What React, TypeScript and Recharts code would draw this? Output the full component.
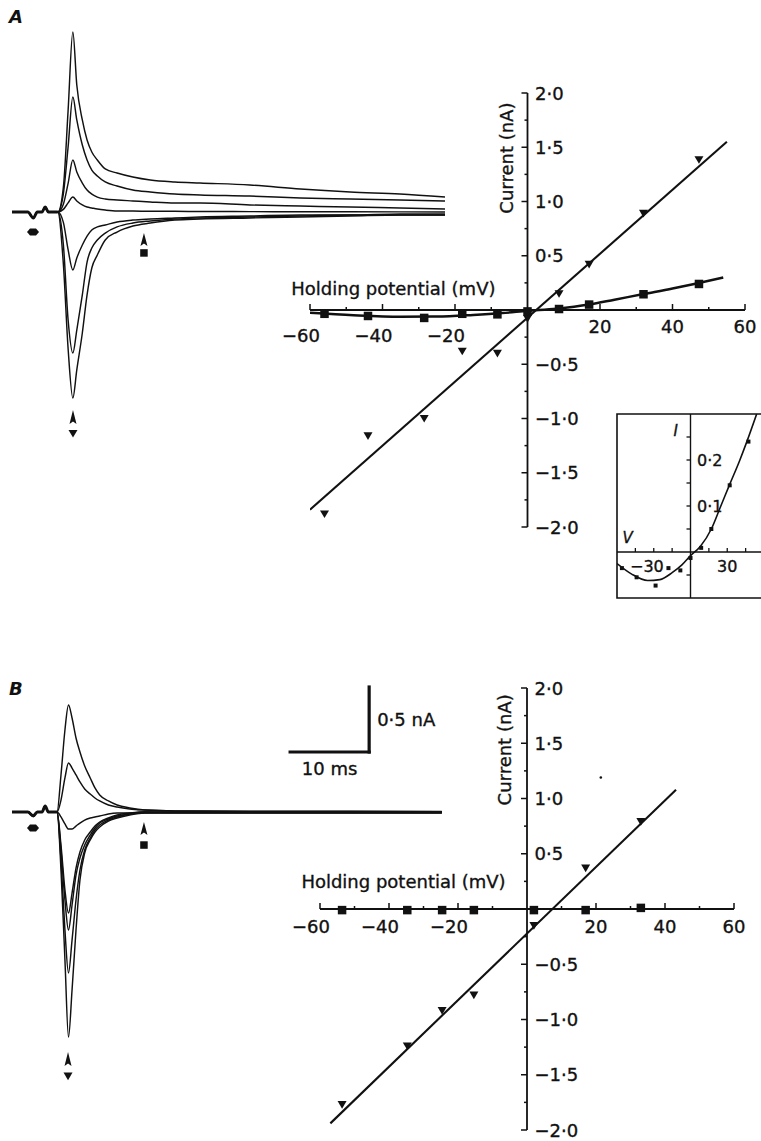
import type { ReactNode } from "react";
import { ComposedChart, Line, Scatter, XAxis, YAxis, ReferenceLine, ReferenceDot, ReferenceArea } from "recharts";

const FONT = '"DejaVu Sans", "Liberation Sans", sans-serif';
const INK = "#111";

// ---- current traces (time in ms from trace start, current in nA) ----
const tA = [0, 2, 2.7, 3.2, 3.8, 4.2, 4.6, 5.8, 6.5, 7.1, 7.7, 8.2, 8.9, 9.5, 10.1, 10.8, 11.8, 13.3, 15.3, 17.5, 20.6, 23.8, 30.1, 36.5, 42.8, 49.1, 54.8];
const preA = [0, 0, -0.046, 0, 0, 0.038, 0, 0];
const a1 = [...preA, 0.19, 0.78, 1.385, 0.977, 0.708, 0.554, 0.462, 0.4, 0.331, 0.3, 0.269, 0.246, 0.231, 0.223, 0.208, 0.177, 0.154, 0.138, 0.115];
const a2 = [...preA, 0.14, 0.5, 0.885, 0.708, 0.515, 0.4, 0.323, 0.277, 0.231, 0.2, 0.169, 0.154, 0.138, 0.131, 0.123, 0.108, 0.1, 0.092, 0.085];
const a3 = [...preA, 0.06, 0.22, 0.4, 0.308, 0.223, 0.169, 0.138, 0.115, 0.1, 0.092, 0.085, 0.077, 0.069, 0.069, 0.054, 0.046, 0.038, 0.031, 0.023];
const a4 = [...preA, 0.02, 0.07, 0.115, 0.085, 0.054, 0.038, 0.031, 0.023, 0.015, 0.008, 0.008, 0.005, 0.005, 0.004, 0.003, 0.002, 0.002, 0.001, 0];
const a5 = [...preA, -0.08, -0.29, -0.446, -0.354, -0.254, -0.185, -0.138, -0.115, -0.1, -0.077, -0.062, -0.054, -0.046, -0.038, -0.031, -0.023, -0.023, -0.015, -0.015];
const a6 = [...preA, -0.25, -0.83, -1.085, -0.908, -0.638, -0.385, -0.277, -0.215, -0.162, -0.115, -0.085, -0.069, -0.054, -0.046, -0.038, -0.031, -0.023, -0.023, -0.023];
const a7 = [...preA, -0.4, -1.05, -1.431, -1.215, -0.931, -0.638, -0.431, -0.331, -0.215, -0.154, -0.108, -0.085, -0.062, -0.054, -0.046, -0.038, -0.031, -0.023, -0.023];

const tB = [0, 2, 2.7, 3.2, 3.8, 4.2, 4.6, 5.7, 6.2, 6.7, 7.15, 7.6, 8.1, 8.6, 9.2, 9.9, 10.5, 11.1, 12.2, 13.3, 14.9, 16.8, 20.6, 30.1, 42.8, 54.4];
const preB = [0, 0, -0.03, 0, 0, 0.046, 0, 0];
const b1 = [...preB, 0.285, 0.631, 0.823, 0.723, 0.569, 0.462, 0.354, 0.262, 0.185, 0.131, 0.085, 0.054, 0.031, 0.015, 0.008, 0.006, 0.006, 0.005];
const b2 = [...preB, 0.092, 0.262, 0.377, 0.338, 0.285, 0.231, 0.177, 0.138, 0.108, 0.085, 0.054, 0.038, 0.023, 0.015, 0.008, 0.004, 0.004, 0.003];
const b3 = [...preB, -0.038, -0.092, -0.131, -0.131, -0.108, -0.085, -0.062, -0.046, -0.038, -0.031, -0.015, -0.008, -0.008, 0, -0.002, -0.002, -0.002, -0.002];
const b4 = [...preB, -0.254, -0.6, -0.777, -0.623, -0.431, -0.308, -0.215, -0.154, -0.108, -0.077, -0.046, -0.023, -0.008, 0, 0, 0, 0, 0];
const b5 = [...preB, -0.292, -0.677, -0.908, -0.715, -0.485, -0.354, -0.254, -0.177, -0.123, -0.085, -0.054, -0.031, -0.015, 0, -0.004, -0.004, -0.004, -0.004];
const b6 = [...preB, -0.369, -0.908, -1.238, -0.985, -0.677, -0.446, -0.292, -0.2, -0.138, -0.1, -0.062, -0.038, -0.015, -0.008, -0.006, -0.006, -0.006, -0.006];
const b7 = [...preB, -0.446, -1.138, -1.731, -1.369, -0.908, -0.523, -0.315, -0.215, -0.154, -0.115, -0.069, -0.046, -0.023, -0.008, -0.008, -0.008, -0.008, -0.008];

// ---- I-V relations (holding potential mV, current nA) ----
const holdA = [-56, -44, -28.5, -18, -8.3, 0, 8.7, 17, 32, 47.3];
const peakA = [-1.88, -1.16, -1.0, -0.38, -0.4, -0.08, 0.15, 0.42, 0.89, 1.385];
const lateA = [-0.035, -0.055, -0.073, -0.035, -0.04, -0.013, 0.009, 0.05, 0.145, 0.24];
const peakFitAV = [-60, 55];
const peakFitAI = [-1.84, 1.55];
const lateFitV = [-60, -48, -35, -25, -15, -7, 0, 8, 17, 24, 32, 40, 46, 54];
const lateFitI = [-0.025, -0.048, -0.062, -0.06, -0.045, -0.028, -0.008, 0.012, 0.05, 0.095, 0.147, 0.198, 0.24, 0.3];

const holdB = [-53.6, -34.7, -24.6, -15.4, 2, 17, 33];
const peakB = [-1.77, -1.24, -0.92, -0.78, -0.15, 0.37, 0.79];
const lateB = [-0.01, -0.01, -0.01, -0.01, -0.01, -0.01, 0.01];
const peakFitBV = [-57, 43.2];
const peakFitBI = [-1.94, 1.08];

// axis ticks
const ivXMajor = [-60, -40, -20, 20, 40, 60];
const ivXMinor = [-50, -30, -10, 10, 30, 50];
const ivYMajor = [2, 1.5, 1, 0.5, -0.5, -1, -1.5, -2];
const ivYMinor = [1.75, 1.25, 0.75, 0.25, -0.25, -0.75, -1.25, -1.75];
const insetXTicks = [-45, -30, -15, 15, 30, 45];
const insetXLabels = [-30, 30];
const insetYTicks = [-0.05, 0.05, 0.1, 0.15, 0.2, 0.25];
const insetYLabels = [0.1, 0.2];

const fmtV = (v: number) => (v < 0 ? "\u2212" + Math.abs(v) : String(v));
const fmtI = (i: number) => (i < 0 ? "\u2212" : "") + Math.abs(i).toFixed(1).replace(".", "\u00b7");
const pts = (vs: number[], is: number[]) => vs.map((v, k) => ({ v, i: is[k] }));

const TEXT_WEIGHT = { stroke: INK, strokeWidth: 0.35 };

const txt = (s: string, dx: number, dy: number, anchor: "start" | "middle" | "end", size = 18, italic = false) => (p: any) => (
  <text x={p.cx + dx} y={p.cy + dy} textAnchor={anchor} fontFamily={FONT} fontSize={size} fontStyle={italic ? "italic" : "normal"} fill={INK} {...TEXT_WEIGHT}>
    {s}
  </text>
);
const vtxt = (s: string, dx: number) => (p: any) => {
  const x = p.cx + dx;
  return (
    <text x={x} y={p.cy} transform={`rotate(-90 ${x} ${p.cy})`} textAnchor="middle" fontFamily={FONT} fontSize={18} fill={INK} {...TEXT_WEIGHT}>
      {s}
    </text>
  );
};
const triDown = (w: number) => (p: any) => (
  <path d={`M${p.cx - w / 2},${p.cy - w * 0.4}H${p.cx + w / 2}L${p.cx},${p.cy + w * 0.45}Z`} fill={INK} />
);
const square = (w: number) => (p: any) => <rect x={p.cx - w / 2} y={p.cy - w / 2} width={w} height={w} fill={INK} />;
const arrowUp = (h: number) => (p: any) => (
  <path d={`M${p.cx},${p.cy}L${p.cx + 3.5},${p.cy + h}L${p.cx},${p.cy + h - 2.5}L${p.cx - 3.5},${p.cy + h}Z`} fill={INK} />
);
const hexMark = (p: any) => (
  <path d={`M${p.cx - 6},${p.cy}L${p.cx - 3},${p.cy - 3.5}H${p.cx + 3}L${p.cx + 6},${p.cy}L${p.cx + 3},${p.cy + 3.5}H${p.cx - 3}Z`} fill={INK} />
);

function TraceChart(props: { top: number; t: number[]; series: number[][]; pre: number[]; domainY: [number, number]; children?: ReactNode }) {
  const rows = props.t.map((t, k) => {
    const r: Record<string, number | null> = { t };
    props.series.forEach((s, j) => (r["s" + j] = s[k]));
    r.pre = k < props.pre.length ? props.pre[k] : null;
    return r;
  });
  return (
    <div style={{ position: "absolute", left: 12, top: props.top }}>
      <ComposedChart width={433} height={460} data={rows} margin={{ top: 0, right: 0, bottom: 0, left: 0 }}>
        <XAxis type="number" dataKey="t" domain={[0, 54.8]} hide allowDataOverflow />
        <YAxis type="number" domain={props.domainY} hide allowDataOverflow />
        {props.series.map((_, j) => (
          <Line key={j} dataKey={"s" + j} type="monotone" stroke={INK} strokeWidth={1.45} dot={false} isAnimationActive={false} />
        ))}
        <Line dataKey="pre" type="monotone" stroke={INK} strokeWidth={3} dot={false} connectNulls={false} isAnimationActive={false} />
        {props.children}
      </ComposedChart>
    </div>
  );
}

type IVProps = {
  left: number; top: number; plotW: number; plotH: number;
  hold: number[]; peak: number[]; late: number[];
  peakFit: { v: number; i: number }[]; lateFit?: { v: number; i: number }[];
  titleV: number; titleDy: number; curI: number; curDx: number; negDy: number; posDy: number;
  children?: ReactNode;
};

function IVChart(p: IVProps) {
  const m = { top: 20, right: 30, bottom: 30, left: 45 };
  const pxV = p.plotW / 120;
  const pxI = p.plotH / 4;
  const tick = (k: string, a: { x: number; y: number }, b: { x: number; y: number }) => (
    <ReferenceLine key={k} segment={[a, b]} stroke={INK} strokeWidth={1.5} ifOverflow="visible" />
  );
  return (
    <div style={{ position: "absolute", left: p.left - m.left, top: p.top - m.top }}>
      <ComposedChart width={p.plotW + m.left + m.right} height={p.plotH + m.top + m.bottom} margin={m}>
        <XAxis type="number" dataKey="v" domain={[-60, 60]} hide allowDataOverflow />
        <YAxis type="number" dataKey="i" domain={[-2, 2]} hide allowDataOverflow />
        <ReferenceLine y={0} stroke={INK} strokeWidth={1.8} ifOverflow="visible" />
        <ReferenceLine x={0} stroke={INK} strokeWidth={1.8} ifOverflow="visible" />
        {ivXMajor.map((v) => tick("xM" + v, { x: v, y: 0 }, { x: v, y: 6 / pxI }))}
        {ivXMinor.map((v) => tick("xm" + v, { x: v, y: 0 }, { x: v, y: 3 / pxI }))}
        {ivYMajor.map((i) => tick("yM" + i, { x: 0, y: i }, { x: -6 / pxV, y: i }))}
        {ivYMinor.map((i) => tick("ym" + i, { x: 0, y: i }, { x: -3 / pxV, y: i }))}
        {ivXMajor.map((v) => (
          <ReferenceDot key={"xl" + v} x={v} y={0} ifOverflow="visible"
            shape={v < 0 ? txt(fmtV(v), 10, p.negDy, "end") : txt(fmtV(v), 0, p.posDy, "middle")} />
        ))}
        {ivYMajor.map((i) => (
          <ReferenceDot key={"yl" + i} x={0} y={i} ifOverflow="visible" shape={txt(fmtI(i), 7.5, 6.5, "start")} />
        ))}
        <ReferenceDot x={p.titleV} y={0} ifOverflow="visible" shape={txt("Holding potential (mV)", 0, p.titleDy, "middle")} />
        <ReferenceDot x={0} y={p.curI} ifOverflow="visible" shape={vtxt("Current (nA)", p.curDx)} />
        <Line data={p.peakFit} dataKey="i" type="linear" stroke={INK} strokeWidth={2.1} dot={false} isAnimationActive={false} />
        {p.lateFit && (
          <Line data={p.lateFit} dataKey="i" type="monotone" stroke={INK} strokeWidth={2.5} dot={false} isAnimationActive={false} />
        )}
        <Scatter data={pts(p.hold, p.peak)} shape={triDown(9)} isAnimationActive={false} />
        <Scatter data={pts(p.hold, p.late)} shape={square(8.5)} isAnimationActive={false} />
        {p.children}
      </ComposedChart>
    </div>
  );
}

function Inset() {
  const m = { top: 5, right: 5, bottom: 5, left: 5 };
  const W = 147;
  const H = 184;
  const pxV = W / 120;
  const pxI = H / 0.4;
  return (
    <div style={{ position: "absolute", left: 617 - m.left, top: 414 - m.top }}>
      <ComposedChart width={W + 10} height={H + 10} margin={m}>
        <XAxis type="number" dataKey="v" domain={[-60, 60]} hide allowDataOverflow />
        <YAxis type="number" dataKey="i" domain={[-0.1, 0.3]} hide allowDataOverflow />
        <ReferenceArea x1={-60} x2={60} y1={-0.1} y2={0.3} fill="none" stroke={INK} strokeWidth={1.6} ifOverflow="visible" />
        <ReferenceLine y={0} stroke={INK} strokeWidth={1.4} ifOverflow="visible" />
        <ReferenceLine x={0} stroke={INK} strokeWidth={1.4} ifOverflow="visible" />
        {insetXTicks.map((v) => (
          <ReferenceLine key={"x" + v} segment={[{ x: v, y: 0 }, { x: v, y: 4 / pxI }]} stroke={INK} strokeWidth={1.3} ifOverflow="visible" />
        ))}
        {insetYTicks.map((i) => (
          <ReferenceLine key={"y" + i} segment={[{ x: 0, y: i }, { x: -4 / pxV, y: i }]} stroke={INK} strokeWidth={1.3} ifOverflow="visible" />
        ))}
        {insetXLabels.map((v) => (
          <ReferenceDot key={"xl" + v} x={v} y={0} ifOverflow="visible"
            shape={v < 0 ? txt(fmtV(v), 10, 20, "end", 16) : txt(fmtV(v), 0, 20, "middle", 16)} />
        ))}
        {insetYLabels.map((i) => (
          <ReferenceDot key={"yl" + i} x={0} y={i} ifOverflow="visible" shape={txt(fmtI(i), 6.5, 6, "start", 16)} />
        ))}
        <ReferenceDot x={-12} y={0.265} ifOverflow="visible" shape={txt("I", 0, 5.5, "middle", 15, true)} />
        <ReferenceDot x={-51.4} y={0.0315} ifOverflow="visible" shape={txt("V", 0, 5.5, "middle", 15, true)} />
        <Line data={pts(lateFitV, lateFitI)} dataKey="i" type="monotone" stroke={INK} strokeWidth={1.6} dot={false} isAnimationActive={false} />
        <Scatter data={pts(holdA, lateA)} shape={square(4)} isAnimationActive={false} />
      </ComposedChart>
    </div>
  );
}

// trace annotations (time ms, current nA)
const markA = { stim: { t: 2.66, i: -0.154 }, peak: { t: 7.72, tip: -1.523, tri: -1.704 }, late: { t: 16.7, tip: -0.162, sq: -0.315 } };
const markB = { stim: { t: 2.66, i: -0.123 }, peak: { t: 7.09, tip: -1.846, tri: -2.031 }, late: { t: 16.7, tip: -0.077, sq: -0.254 } };
const scaleBar = { t: 35.2, i: 0.4615, ms: 10, nA: 0.5 };

function TraceMarks(mk: typeof markA) {
  return [
    <ReferenceDot key="s" x={mk.stim.t} y={mk.stim.i} shape={hexMark} />,
    <ReferenceDot key="pa" x={mk.peak.t} y={mk.peak.tip} shape={arrowUp(14)} />,
    <ReferenceDot key="pt" x={mk.peak.t} y={mk.peak.tri} shape={triDown(9)} />,
    <ReferenceDot key="la" x={mk.late.t} y={mk.late.tip} shape={arrowUp(13)} />,
    <ReferenceDot key="ls" x={mk.late.t} y={mk.late.sq} shape={square(7.5)} />,
  ];
}

export default function App() {
  const tEnd = scaleBar.t + scaleBar.ms;
  return (
    <div style={{ position: "absolute", left: 0, top: 0, width: 761, height: 1141, overflow: "hidden", background: "#fff" }}>
      <svg width={761} height={1141} style={{ position: "absolute", left: 0, top: 0 }}>
        <text x={9} y={23} fontFamily={FONT} fontStyle="italic" fontWeight="bold" fontSize={18} fill={INK}>A</text>
        <text x={9} y={695} fontFamily={FONT} fontStyle="italic" fontWeight="bold" fontSize={18} fill={INK}>B</text>
      </svg>

      <TraceChart top={0} t={tA} series={[a1, a2, a3, a4, a5, a6, a7]} pre={preA} domainY={[-1.908, 1.631]}>
        {TraceMarks(markA)}
      </TraceChart>

      <TraceChart top={640} t={tB} series={[b1, b2, b3, b4, b5, b6, b7]} pre={preB} domainY={[-2.215, 1.323]}>
        {TraceMarks(markB)}
        <ReferenceLine segment={[{ x: scaleBar.t, y: scaleBar.i }, { x: tEnd, y: scaleBar.i }]} stroke={INK} strokeWidth={3.2} strokeLinecap="square" ifOverflow="visible" />
        <ReferenceLine segment={[{ x: tEnd, y: scaleBar.i }, { x: tEnd, y: scaleBar.i + scaleBar.nA }]} stroke={INK} strokeWidth={3.2} strokeLinecap="square" ifOverflow="visible" />
        <ReferenceDot x={tEnd} y={scaleBar.i + scaleBar.nA / 2} shape={txt("0\u00b75 nA", 8, 6.5, "start")} />
        <ReferenceDot x={scaleBar.t + scaleBar.ms / 2} y={scaleBar.i} shape={txt("10 ms", 0, 23, "middle")} />
      </TraceChart>

      <IVChart left={310} top={93} plotW={435} plotH={434}
        hold={holdA} peak={peakA} late={lateA}
        peakFit={pts(peakFitAV, peakFitAI)} lateFit={pts(lateFitV, lateFitI)}
        titleV={-37} titleDy={-15} curI={1.4} curDx={-14} negDy={31.5} posDy={23} />

      <IVChart left={320} top={688} plotW={414} plotH={442}
        hold={holdB} peak={peakB} late={lateB}
        peakFit={pts(peakFitBV, peakFitBI)}
        titleV={-35.8} titleDy={-21} curI={1.44} curDx={-15.5} negDy={23.5} posDy={23.5}>
        <ReferenceDot x={21.4} y={1.19} r={1.3} fill={INK} stroke="none" />
      </IVChart>

      <Inset />
    </div>
  );
}
